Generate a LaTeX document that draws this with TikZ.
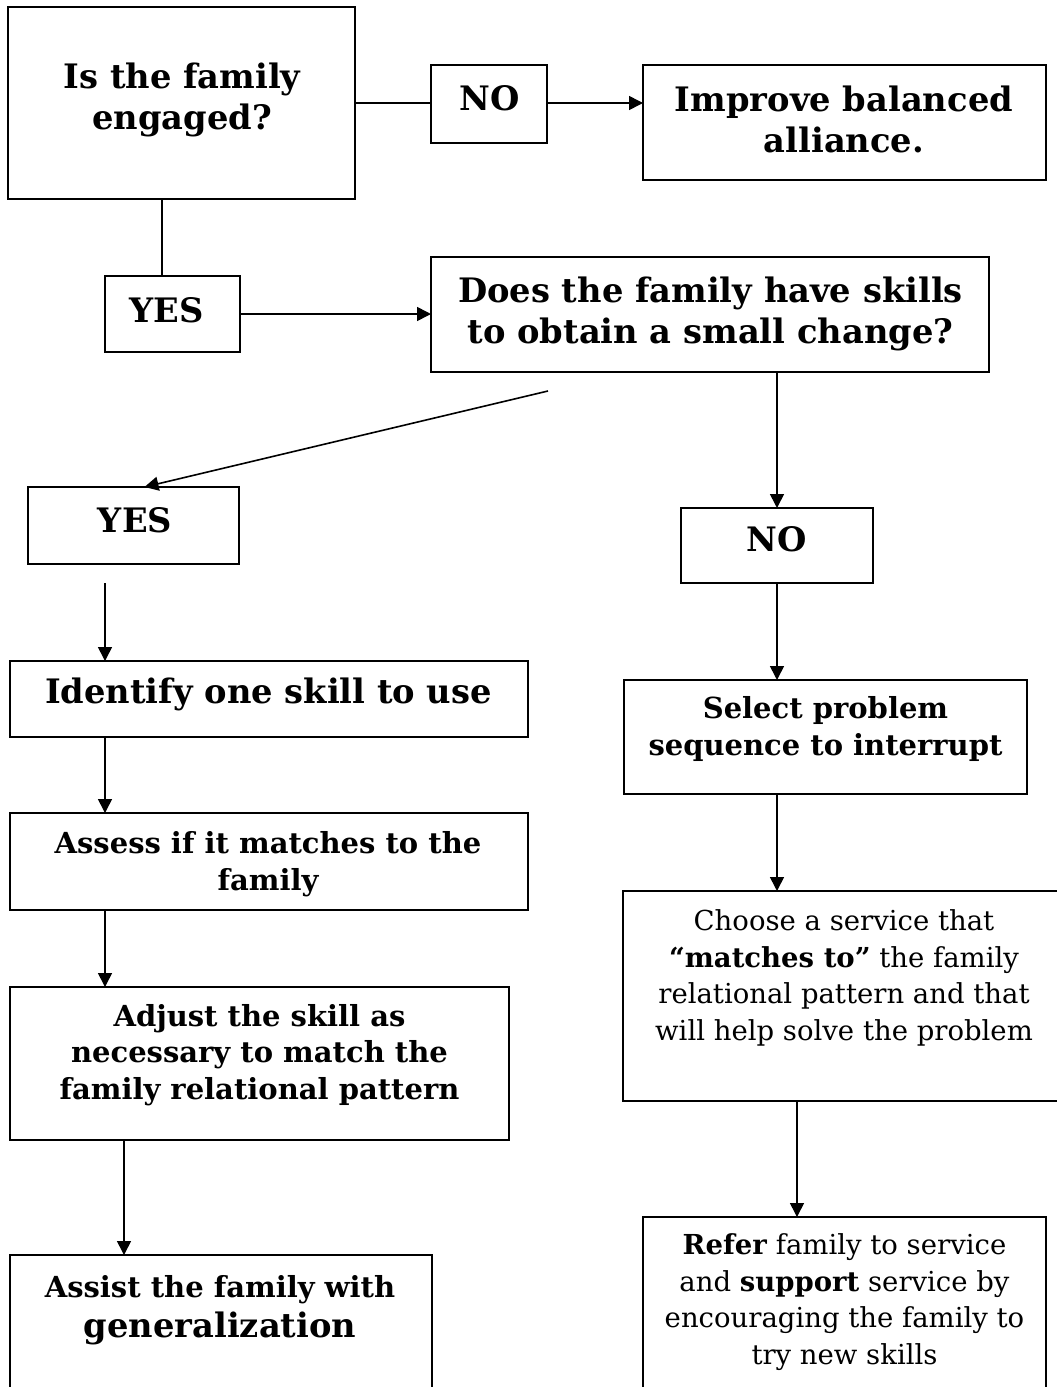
\documentclass[tikz,border=0pt]{standalone}
\usepackage{fontspec}
\setmainfont{DejaVu Serif}
\usetikzlibrary{arrows.meta}

% font sizes used in the chart (units are px-sized points)
\newcommand\bigbf{\fontsize{33.7}{41}\selectfont\bfseries}
\newcommand\midbf{\fontsize{29}{36.5}\selectfont\bfseries}
\newcommand\plaintxt{\fontsize{27.5}{36.5}\selectfont\mdseries}

% a framed box given by its left, top, right and bottom edges
\newcommand\frbox[5]{%
  \node[frame, minimum width={(#4)-(#2)}, minimum height={(#5)-(#3)}]
    (#1) at ({((#2)+(#4))/2},{((#3)+(#5))/2}) {};}

\begin{document}
\begin{tikzpicture}[x=1pt,y=-1pt,
  frame/.style={draw=black, line width=2pt, inner sep=0pt, outer sep=0pt, fill=none},
  lbl/.style={inner sep=0pt, align=center, anchor=base},
  big/.style={lbl, font=\bigbf},
  mid/.style={lbl, font=\midbf},
  plain/.style={lbl, font=\plaintxt},
  conn/.style={draw=black, line width=1.6pt},
  arr/.style={conn, -{Triangle[length=14pt,width=14pt]}}]

\useasboundingbox (0,0) rectangle (1057,1387);
\clip (0,0) rectangle (1057,1387);
\fill[white] (0,0) rectangle (1057,1387);

% ---- boxes ----
\frbox{engaged}{8}{7}{355}{199}
\frbox{noA}{431}{65}{547}{143}
\frbox{improve}{643}{65}{1046}{180}
\frbox{yesA}{105}{276}{240}{352}
\frbox{skills}{431}{257}{989}{372}
\frbox{yesB}{28}{487}{239}{564}
\frbox{identify}{10}{661}{528}{737}
\frbox{assess}{10}{813}{528}{910}
\frbox{adjust}{10}{987}{509}{1140}
\frbox{assist}{10}{1255}{432}{1420}
\frbox{noB}{681}{508}{873}{583}
\frbox{select}{624}{680}{1027}{794}
\frbox{choose}{623}{891}{1075}{1101}
\frbox{refer}{643}{1217}{1046}{1420}

% ---- texts (placed at the baseline of their last line) ----
\node[big] (engagedT) at (182,129) {Is the family\\ engaged?};
\node[big] (noAT) at (489.5,110) {NO};
\node[big] (improveT) at (844,152) {Improve balanced\\ alliance.};
\node[big] (yesAT) at (166.5,322) {YES};
\node[big] (skillsT) at (710.5,343) {Does the family have skills\\ to obtain a small change?};
\node[big] (yesBT) at (135,532) {YES};
\node[big] (identifyT) at (268.5,703) {Identify one skill to use};
\node[mid] (assessT) at (268,890) {Assess if it matches to the\\ family};
\node[mid] (adjustT) at (259.5,1099) {Adjust the skill as\\ necessary to match the\\ family relational pattern};
\node[mid] (assistT) at (220,1337) {Assist the family with\\[3.5pt] \bigbf generalization};
\node[big] (noBT) at (777,551) {NO};
\node[mid] (selectT) at (825.5,755) {Select problem\\ sequence to interrupt};
\node[plain] (chooseT) at (844,1040) {Choose a service that\\
  \textbf{“matches to”} the family\\
  relational pattern and that\\
  will help solve the problem};
\node[plain] (referT) at (844.5,1364) {\textbf{Refer} family to service\\
  and \textbf{support} service by\\
  encouraging the family to\\
  try new skills};

% ---- connectors ----
\coordinate (colA) at (162,0);
\coordinate (colB) at (105,0);
\coordinate (colC) at (124,0);
\coordinate (colD) at (777,0);
\coordinate (colE) at (797,0);
\coordinate (diagStart) at (548,391);
\coordinate (dropStart) at (105,583);

\draw[conn] (engaged.east |- 0,103) -- (noA.west |- 0,103);
\draw[arr] (noA.east |- 0,103) -- (improve.west |- 0,103);
\draw[conn] (colA |- engaged.south) -- (colA |- yesA.north);
\draw[arr] (yesA.east) -- (yesA.east -| skills.west);
\draw[arr] (diagStart) -- ([xshift=11pt]yesB.north);
\draw[arr] (dropStart) -- (colB |- identify.north);
\draw[arr] (colB |- identify.south) -- (colB |- assess.north);
\draw[arr] (colB |- assess.south) -- (colB |- adjust.north);
\draw[arr] (colC |- adjust.south) -- (colC |- assist.north);
\draw[arr] (colD |- skills.south) -- (colD |- noB.north);
\draw[arr] (colD |- noB.south) -- (colD |- select.north);
\draw[arr] (colD |- select.south) -- (colD |- choose.north);
\draw[arr] (colE |- choose.south) -- (colE |- refer.north);
\end{tikzpicture}
\end{document}
